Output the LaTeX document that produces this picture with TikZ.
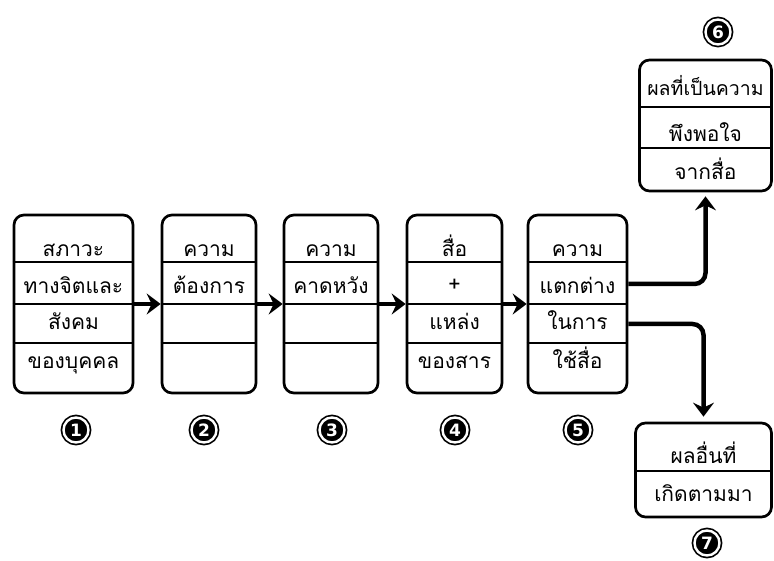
\documentclass[tikz,border=0pt]{standalone}
\usepackage{fontspec}
\newfontfamily\thaifont[Script=Thai]{Loma}
\newfontfamily\numfont{DejaVu Sans}
\usetikzlibrary{arrows.meta}
\tikzset{
  flowbox/.style={draw, line width=2.7pt, rounded corners=10pt, inner sep=0pt},
  rowline/.style={line width=1.5pt},
  txt/.style={font=\thaifont\fontsize{21}{24}\selectfont, anchor=base, inner sep=0pt},
  arr/.style={line width=4.5pt, -{Stealth[length=14pt,width=21pt,inset=5pt]}},
  num/.style={circle, fill=black, draw=black, double=white, double distance=2.4pt,
    line width=1.7pt, minimum size=25pt, inner sep=0pt, text=white,
    font=\numfont\bfseries\fontsize{17}{17}\selectfont},
}
\begin{document}
\begin{tikzpicture}[x=1pt,y=-1pt]
\useasboundingbox (0,0) rectangle (774,561);
% boxes 1-5
\node[flowbox, minimum width=119pt, minimum height=178pt] (b1) at (73.5,304) {};
\node[flowbox, minimum width=94pt, minimum height=178pt] (b2) at (209,304) {};
\node[flowbox, minimum width=94pt, minimum height=178pt] (b3) at (331,304) {};
\node[flowbox, minimum width=95pt, minimum height=178pt] (b4) at (454.5,304) {};
\node[flowbox, minimum width=99pt, minimum height=178pt] (b5) at (577.5,304) {};
\foreach \b in {b1,b2,b3,b4,b5}{
  \foreach \y in {262,304,343}{
    \draw[rowline] (\b.west |- 0,\y) -- (\b.east |- 0,\y);
  }
}
% box 6, box 7
\node[flowbox, minimum width=132pt, minimum height=131pt] (b6) at (705.5,125.5) {};
\draw[rowline] (b6.west |- 0,107) -- (b6.east |- 0,107);
\draw[rowline] (b6.west |- 0,148) -- (b6.east |- 0,148);
\node[flowbox, minimum width=136pt, minimum height=94pt] (b7) at (703.5,470) {};
\draw[rowline] (b7.west |- 0,471) -- (b7.east |- 0,471);
% texts
\node[txt] (t11) at (b1.center |- 0,257) {สภาวะ};
\node[txt] (t12) at (b1.center |- 0,294) {ทางจิตและ};
\node[txt] (t13) at (b1.center |- 0,330) {สังคม};
\node[txt] (t14) at (b1.center |- 0,369) {ของบุคคล};
\node[txt] (t21) at (b2.center |- 0,257) {ความ};
\node[txt] (t22) at (b2.center |- 0,294) {ต้องการ};
\node[txt] (t31) at (b3.center |- 0,257) {ความ};
\node[txt] (t32) at (b3.center |- 0,294) {คาดหวัง};
\node[txt] (t41) at (b4.center |- 0,257) {สื่อ};
\node[txt] (t42) at (b4.center |- 0,292) {+};
\node[txt] (t43) at (b4.center |- 0,330) {แหล่ง};
\node[txt] (t44) at (b4.center |- 0,369) {ของสาร};
\node[txt] (t51) at (b5.center |- 0,257) {ความ};
\node[txt] (t52) at (b5.center |- 0,294) {แตกต่าง};
\node[txt] (t53) at (b5.center |- 0,330) {ในการ};
\node[txt] (t54) at (b5.center |- 0,369) {ใช้สื่อ};
\node[txt, font=\thaifont\fontsize{19.5}{24}\selectfont] (t61) at (b6.center |- 0,96) {ผลที่เป็นความ};
\node[txt] (t62) at (b6.center |- 0,142) {พึงพอใจ};
\node[txt] (t63) at (b6.center |- 0,180) {จากสื่อ};
\node[txt] (t71) at (b7.center |- 0,463) {ผลอื่นที่};
\node[txt] (t72) at (b7.center |- 0,501) {เกิดตามมา};
% numbers
\node[num] (n1) at (76,430) {1};
\node[num] (n2) at (204,430) {2};
\node[num] (n3) at (332,430) {3};
\node[num] (n4) at (455,430) {4};
\node[num] (n5) at (578,430) {5};
\node[num] (n6) at (718,32) {6};
\node[num] (n7) at (707,543) {7};
% connectors
\draw[arr] (b1.east) -- (b2.west);
\draw[arr] (b2.east) -- (b3.west);
\draw[arr] (b3.east) -- (b4.west);
\draw[arr] (b4.east) -- (b5.west);
\draw[arr, rounded corners=11pt, shorten >=4pt] (b5.east |- 0,284) -| (b6.south);
\draw[arr, rounded corners=11pt, shorten >=5pt] (b5.east |- 0,324) -| (b7.north);
\end{tikzpicture}
\end{document}
